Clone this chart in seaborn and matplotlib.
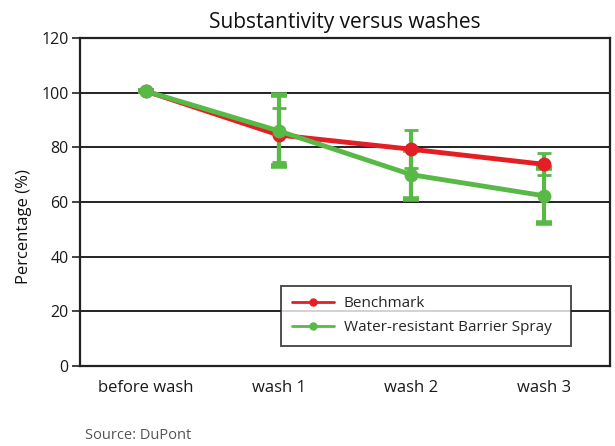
import matplotlib
matplotlib.use("Agg")
import matplotlib.pyplot as plt
import seaborn as sns
import pandas as pd
from matplotlib.lines import Line2D

categories = ["before wash", "wash 1", "wash 2", "wash 3"]
benchmark = [100.5, 84.5, 79.3, 73.8]
benchmark_err = [0, 10, 7, 4]
spray = [100.5, 86.0, 70.0, 62.3]
spray_err = [0, 13, 9, 10]
series_names = ["Benchmark", "Water-resistant Barrier Spray"]
yticks = [0, 20, 40, 60, 80, 100, 120]

RED = "#E31E24"
GREEN = "#58B947"

sns.set_theme(style="white")
plt.rcParams['font.family'] = ['Open Sans', 'DejaVu Sans']

df = pd.DataFrame({
    "x": list(range(len(categories))) * 2,
    "value": benchmark + spray,
    "series": [series_names[0]] * len(categories) + [series_names[1]] * len(categories),
})

fig = plt.figure(figsize=(6.15, 4.46), dpi=100)
ax = fig.add_axes([0.130, 0.179, 0.862, 0.736])

# error bars
ax.errorbar(range(len(categories)), benchmark, yerr=benchmark_err, fmt="none",
            ecolor=GREEN, elinewidth=3, capsize=5, capthick=2, zorder=3)
ax.errorbar(range(len(categories)), spray, yerr=spray_err, fmt="none",
            ecolor=GREEN, elinewidth=3, capsize=5.5, capthick=4, zorder=3)

sns.lineplot(data=df, x="x", y="value", hue="series", palette=[RED, GREEN],
             marker="o", markersize=10, markeredgewidth=0, linewidth=3.5,
             ax=ax, legend=False, zorder=4)

ax.set_xlim(-0.5, 3.5)
ax.set_ylim(0, 120)
ax.set_yticks(yticks)
ax.set_yticklabels([str(t) for t in yticks], fontsize=11.5, color="#1a1a1a")
ax.set_xticks(range(len(categories)))
ax.set_xticklabels(categories, fontsize=12, color="#1a1a1a")
ax.tick_params(axis="x", length=0, pad=10)
ax.tick_params(axis="y", length=6, width=1.2, color="#222222", left=True, pad=2, direction="out")
ax.set_xlabel("")
ax.set_ylabel("Percentage (%)", fontsize=12, color="#111111")
ax.yaxis.set_label_coords(-0.09, 0.424)
ax.set_title("Substantivity versus washes", fontsize=15, color="#111111", pad=7)

for y in yticks[1:-1]:
    ax.axhline(y, color="#222222", lw=1.4, zorder=1)
for s in ax.spines.values():
    s.set_color("#222222")
    s.set_linewidth(1.6)
    s.set_visible(True)

handles = [Line2D([], [], color=RED, lw=2, marker="o", markersize=5),
           Line2D([], [], color=GREEN, lw=2, marker="o", markersize=5)]
leg = ax.legend(handles, series_names, loc="lower left",
                bbox_to_anchor=(0.379, 0.061, 0.547, 0.207), mode="expand",
                fontsize=11, frameon=True, fancybox=False, borderpad=0.7,
                labelspacing=0.6, handlelength=2.8, handletextpad=0.6,
                borderaxespad=0)
leg.get_frame().set_edgecolor("#222222")
leg.get_frame().set_linewidth(1.4)
leg.set_zorder(6)

fig.text(0.138, 0.015, "Source: DuPont", fontsize=10.5, color="#555555")

fig.savefig("out.png", dpi=100)
